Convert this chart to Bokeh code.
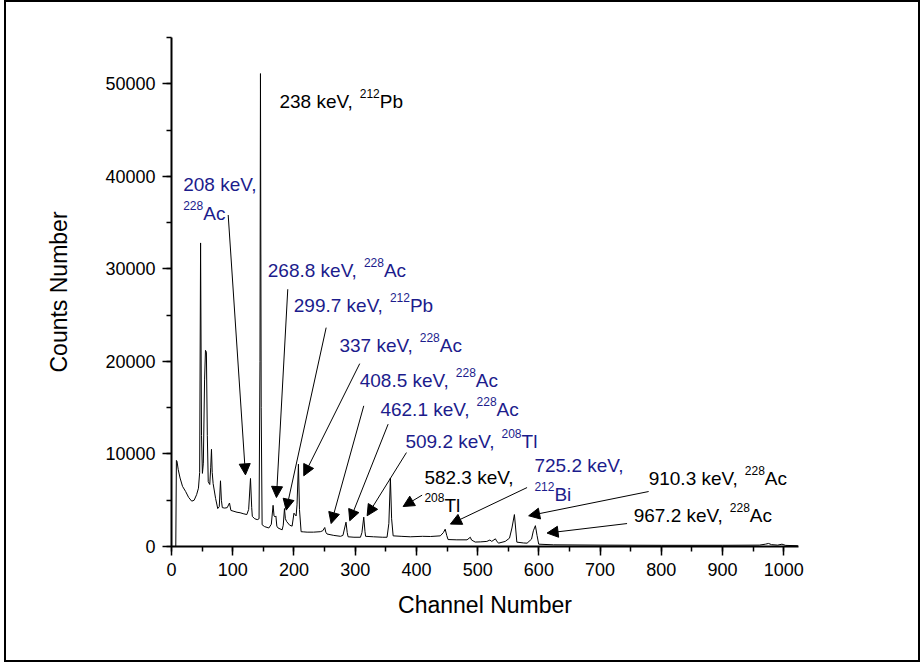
from bokeh.plotting import figure
from bokeh.models import Range1d, SingleIntervalTicker, ColumnDataSource, Arrow, NormalHead, Spacer
from bokeh.layouts import row
from bokeh.embed import file_html
from bokeh.resources import INLINE
from bokeh.core.properties import value

# ---- spectrum ----
channel = [0, 7, 8, 9, 11, 14, 18, 23, 28, 33, 37, 41, 44, 46, 47.5, 49, 50.5, 52, 54, 55.5, 57, 58.5,
           60, 62.5, 64, 65.3, 66.5, 68, 72, 75.5, 78, 80, 81.5, 83, 87, 91, 94.7, 97, 102, 107, 112,
           117, 123, 126, 129, 131, 132, 136, 140, 143, 144.5, 145.3, 146.5, 148, 152, 159, 163, 165.9,
           167.5, 169, 170.5, 172, 174, 180.7, 182.5, 184.5, 186, 188, 193, 197, 200, 203.5, 205, 207.3,
           209, 211.7, 216, 221.5, 232, 243, 247, 250.3, 252, 254, 265, 276, 280, 285, 287, 288.4, 298,
           308.6, 311, 314, 316, 317, 330, 345, 352, 355, 357.5, 359.5, 362, 375, 390, 410, 423, 439,
           444, 447, 449.5, 451.7, 466, 482.7, 488, 490, 496, 505, 515, 520, 523, 529, 531, 534, 545,
           552, 556, 560, 562, 564, 575, 580.7, 588, 591, 594.3, 597, 599.7, 624, 700, 800, 900, 960,
           970, 975, 980, 990, 997, 1003, 1023]
counts = [0, 0, 9300, 9200, 8300, 7400, 6500, 5950, 5300, 4900, 5000, 5600, 6300, 8000, 32800, 12000,
          7900, 9000, 18000, 21200, 21000, 12000, 7000, 6700, 8500, 10500, 8000, 6800, 5200, 4100, 4300,
          7100, 5000, 4200, 4150, 4200, 4700, 3900, 3800, 3700, 3650, 3550, 3450, 4000, 7350, 4200, 3250,
          3000, 2900, 3000, 20000, 51100, 15000, 2350, 2150, 2000, 2400, 4450, 3300, 3200, 3300, 2200,
          2000, 1800, 2300, 4100, 3000, 2700, 2300, 2200, 3600, 3300, 4500, 8900, 4000, 1600, 1580, 1550,
          1550, 1600, 1700, 2050, 1550, 1350, 1200, 1100, 1200, 2630, 1500, 1050, 1000, 1000, 1500, 3170,
          1600, 1100, 1050, 1000, 1000, 2500, 7400, 3000, 1150, 1100, 1050, 1100, 1080, 1150, 1500, 1870,
          1200, 750, 720, 720, 1000, 700, 480, 500, 550, 700, 550, 830, 600, 360, 550, 900, 2000, 3450,
          2000, 470, 380, 360, 800, 1700, 2250, 1200, 250, 180, 150, 130, 130, 150, 250, 330, 200, 150,
          250, 120, 80]

# ---- annotations ----
BLUE = "#1c1c8c"
label_text = ["238 keV, ^212^Pb", "208 keV,", "^228^Ac", "268.8 keV, ^228^Ac", "299.7 keV, ^212^Pb",
              "337 keV, ^228^Ac", "408.5 keV, ^228^Ac", "462.1 keV, ^228^Ac", "509.2 keV, ^208^Tl",
              "582.3 keV,", "^208^Tl", "725.2 keV,", "^212^Bi", "910.3 keV, ^228^Ac", "967.2 keV, ^228^Ac"]
label_x = [176.3, 19.1, 19.1, 157.2, 199.7, 274.3, 307.4, 341.2, 382.0, 413.0, 413.0, 592.7, 592.7, 779.3, 754.8]
label_y = [47140, 38120, 35000, 28880, 25100, 20780, 17000, 13870, 10340, 6450, 3420, 7740, 4640, 6370, 2420]
label_color = ["black", BLUE, BLUE, BLUE, BLUE, BLUE, BLUE, BLUE, BLUE, "black", "black", BLUE, BLUE,
               "black", "black"]

arrow_x_start = [92.6, 189.9, 252.6, 307.4, 314.0, 353.8, 383.7, 409.3, 580.7, 779.3, 744.0]
arrow_y_start = [35820, 27800, 23650, 19760, 15200, 13220, 10150, 5550, 6370, 5940, 2480]
arrow_x_end = [120.8, 171.4, 187.3, 216.0, 260.7, 291.1, 319.5, 378.3, 455.5, 583.3, 613.4]
arrow_y_end = [7740, 5290, 3930, 7640, 2480, 2780, 3320, 4320, 2420, 3320, 1450]

FONT = "Liberation Sans"
MAIN_SIZE = 19.0
SUP_SIZE = 12.0
SUP_RAISE = 8
TEXT_SHIFT = -9
WIDTHS = {" ": 278, ".": 278, ",": 278, "k": 500, "e": 556, "V": 667, "A": 667, "c": 500,
          "P": 667, "b": 556, "T": 611, "l": 222, "B": 667, "i": 222}


def text_width(s, size):
    return sum(WIDTHS.get(ch, 556) for ch in s) * size / 1000.0


main = dict(x=[], y=[], text=[], xo=[], color=[])
sup = dict(x=[], y=[], text=[], xo=[], color=[])
for t, lx, ly, c in zip(label_text, label_x, label_y, label_color):
    parts = t.split("^")
    off = 0.0
    for i, part in enumerate(parts):
        if not part:
            continue
        is_sup = (i % 2 == 1)
        d = sup if is_sup else main
        d["x"].append(lx)
        d["y"].append(ly)
        d["text"].append(part)
        d["xo"].append(off)
        d["color"].append(c)
        off += text_width(part, SUP_SIZE if is_sup else MAIN_SIZE)

p = figure(width=916, height=662, x_range=Range1d(0, 1024), y_range=Range1d(0, 55000),
           output_backend="svg", toolbar_location=None,
           min_border_left=167, min_border_right=122, min_border_top=37, min_border_bottom=116)
p.styles = {"outline": "2px solid black", "outline-offset": "-2px"}
p.outline_line_color = None
p.grid.visible = False
p.background_fill_color = None
p.border_fill_color = None

p.line(channel, counts, line_color="black", line_width=1)

p.text(x="x", y="y", text="text", x_offset="xo", y_offset=TEXT_SHIFT, text_color="color",
       source=ColumnDataSource(main),
       text_font=value(FONT), text_font_size=value(f"{MAIN_SIZE}px"), text_baseline="alphabetic",
       text_align="left")
p.text(x="x", y="y", text="text", x_offset="xo", y_offset=TEXT_SHIFT - SUP_RAISE, text_color="color",
       source=ColumnDataSource(sup), text_font=value(FONT), text_font_size=value(f"{SUP_SIZE}px"),
       text_baseline="alphabetic", text_align="left")

asrc = ColumnDataSource(dict(xs=arrow_x_start, ys=arrow_y_start, xe=arrow_x_end, ye=arrow_y_end))
p.add_layout(Arrow(end=NormalHead(size=11, fill_color="black", line_color="black", line_width=1),
                   x_start="xs", y_start="ys", x_end="xe", y_end="ye", source=asrc,
                   line_color="black", line_width=1))

p.xaxis.ticker = SingleIntervalTicker(interval=100, num_minor_ticks=2)
p.yaxis.ticker = SingleIntervalTicker(interval=10000, num_minor_ticks=2)
p.xaxis.axis_label = "Channel Number"
p.yaxis.axis_label = "Counts Number"
for ax in (p.xaxis, p.yaxis):
    ax.axis_line_width = 2
    ax.axis_line_color = "black"
    ax.major_tick_line_width = 1.5
    ax.minor_tick_line_width = 1.5
    ax.major_tick_line_color = "black"
    ax.minor_tick_line_color = "black"
    ax.major_tick_out = 9
    ax.major_tick_in = 0
    ax.minor_tick_out = 5
    ax.minor_tick_in = 0
    ax.major_label_text_font = FONT
    ax.major_label_text_font_size = "18px"
    ax.major_label_text_color = "black"
    ax.major_label_standoff = 7
    ax.axis_label_text_font = FONT
    ax.axis_label_text_font_size = "23px"
    ax.axis_label_text_font_style = "normal"
    ax.axis_label_text_color = "black"
p.xaxis.axis_label_standoff = 13
p.yaxis.axis_label_standoff = 30
p.yaxis.major_label_orientation = "horizontal"

layout = row(Spacer(width=4, height=662), p)
open("out.html", "w").write(file_html(layout, INLINE))
